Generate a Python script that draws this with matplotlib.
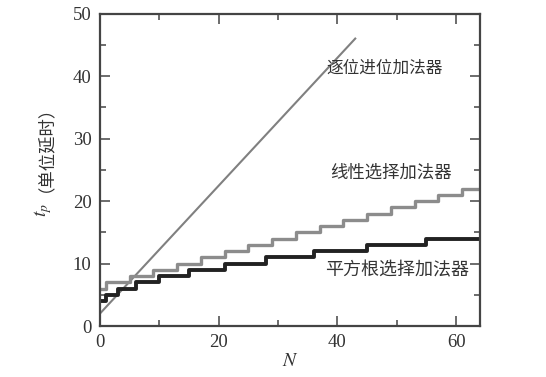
"""
Adder delay vs. word length: ripple carry, linear carry-select, square-root carry-select.
"""

import matplotlib.pyplot as plt

# ripple carry adder (straight line)
ripple_n = [0, 43]
ripple_t = [2, 46]

# linear carry-select adder (steps every 4 bits)
linear_n = [0, 1, 5, 9, 13, 17, 21, 25, 29, 33, 37, 41, 45, 49, 53, 57, 61, 64]
linear_t = [6, 7, 8, 9, 10, 11, 12, 13, 14, 15, 16, 17, 18, 19, 20, 21, 22, 22]

# square-root carry-select adder (block sizes 1, 2, 3, ...)
sqrt_n = [0, 1, 3, 6, 10, 15, 21, 28, 36, 45, 55, 64]
sqrt_t = [4, 5, 6, 7, 8, 9, 10, 11, 12, 13, 14, 14]

labels = ['逐位进位加法器', '线性选择加法器', '平方根选择加法器']

cjk = ['Noto Sans CJK SC', 'DejaVu Sans']
plt.rcParams['mathtext.fontset'] = 'stix'

fig = plt.figure(figsize=(5.46, 3.77), dpi=100)
ax = fig.add_axes([0.183, 0.135, 0.696, 0.829])

ax.plot(ripple_n, ripple_t, color='#808080', lw=1.5)
ax.plot(linear_n, linear_t, drawstyle='steps-post', color='#8c8c8c', lw=2.4)
ax.plot(sqrt_n, sqrt_t, drawstyle='steps-post', color='#222222', lw=2.8)

ax.set_xlim(0, 64)
ax.set_ylim(0, 50)
ax.set_xticks([0, 20, 40, 60])
ax.set_xticks([10, 30, 50], minor=True)
ax.set_yticks([0, 10, 20, 30, 40, 50])
ax.set_yticks([5, 15, 25, 35, 45], minor=True)
ax.tick_params(which='both', direction='in', top=True, right=True,
               color='#444444', width=1.1, labelsize=13.5, pad=6)
ax.tick_params(which='major', length=7)
ax.tick_params(which='minor', length=4)
for lab in ax.get_xticklabels() + ax.get_yticklabels():
    lab.set_fontfamily('Liberation Serif')
    lab.set_color('#333333')
for s in ax.spines.values():
    s.set_linewidth(1.6)
    s.set_color('#444444')

ax.text(48, 41.3, labels[0], family=cjk, fontsize=12, color='#333333',
        ha='center', va='center')
ax.text(49, 24.5, labels[1], family=cjk, fontsize=12.5, color='#333333',
        ha='center', va='center')
ax.text(50, 9, labels[2], family=cjk, fontsize=13, color='#333333',
        ha='center', va='center')

ax.set_xlabel('$N$', fontsize=14, color='#333333', labelpad=0)
fig.text(0.078, 0.443, '$t_p$', rotation=90, fontsize=14, color='#333333',
         ha='center', va='center')
fig.text(0.066, 0.628, '（单位延时）', rotation=90, family=cjk, fontsize=12.5,
         color='#333333', ha='center', va='center')

plt.savefig('out.png', dpi=100)
